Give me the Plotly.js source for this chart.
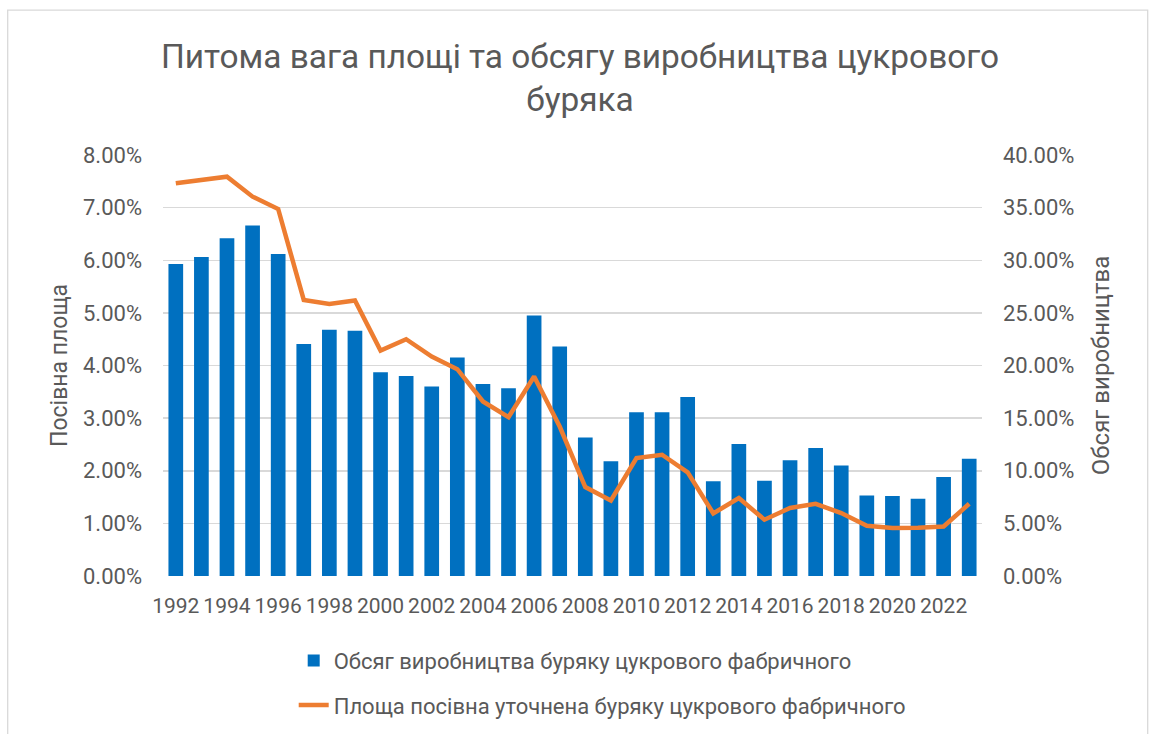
<!DOCTYPE html>
<html>
<head>
<meta charset="utf-8">
<script src="https://cdn.plot.ly/plotly-3.0.1.min.js"></script>
<style>html,body{margin:0;padding:0;background:#fff;}#chart{width:1154px;height:734px;}</style>
</head>
<body>
<div id="chart"></div>
<script>
// ---- data ----
const years = [1992,1993,1994,1995,1996,1997,1998,1999,2000,2001,2002,2003,2004,2005,2006,2007,
               2008,2009,2010,2011,2012,2013,2014,2015,2016,2017,2018,2019,2020,2021,2022,2023];
// production volume share, % (bars)
const productionShare = [5.93,6.06,6.42,6.66,6.12,4.41,4.68,4.66,3.87,3.80,3.60,4.15,3.65,3.57,4.95,4.36,
                         2.63,2.18,3.11,3.11,3.40,1.80,2.51,1.81,2.20,2.43,2.10,1.53,1.52,1.47,1.88,2.23];
// sown area share, % (line)
const areaShare = [37.31,37.63,37.94,36.04,34.87,26.23,25.85,26.17,21.42,22.50,20.85,19.65,16.58,15.10,18.95,14.20,
                   8.45,7.18,11.20,11.52,9.84,5.95,7.40,5.35,6.46,6.86,5.98,4.78,4.56,4.59,4.71,6.86];
const xTickVals = [1992,1994,1996,1998,2000,2002,2004,2006,2008,2010,2012,2014,2016,2018,2020,2022];
const xTickText = ['1992','1994','1996','1998','2000','2002','2004','2006','2008','2010','2012','2014','2016','2018','2020','2022'];
const barName = 'Обсяг виробництва буряку цукрового фабричного';
const lineName = 'Площа посівна уточнена буряку цукрового фабричного';
const chartTitle = 'Питома вага площі та обсягу виробництва цукрового<br>буряка';
const leftTitle = 'Посівна площа';
const rightTitle = 'Обсяг виробництва';

// ---- chart ----
const FONT = 'Roboto, "Noto Sans", sans-serif';
const TXT = '#595959';
const GRID = '#D9D9D9';

const traces = [
  {
    type: 'bar', x: years, y: productionShare, name: barName, legendgroup: 'g1',
    marker: {color: '#0070C0'}, yaxis: 'y', hoverinfo: 'skip'
  },
  {
    type: 'scatter', mode: 'lines', x: years, y: areaShare, name: lineName, legendgroup: 'g2',
    line: {color: '#ED7D31', width: 4.5}, yaxis: 'y2', hoverinfo: 'skip'
  }
];

const layout = {
  width: 1154, height: 734,
  margin: {l: 163, r: 172, t: 155, b: 158, autoexpand: false},
  paper_bgcolor: '#ffffff', plot_bgcolor: '#ffffff',
  font: {family: FONT, color: TXT, size: 22},
  showlegend: true,
  bargap: 0.426,
  title: {
    text: chartTitle,
    font: {family: FONT, size: 33.4, color: TXT},
    xref: 'container', x: 0.5026, xanchor: 'center',
    yref: 'container', y: 1 - 68/734, yanchor: 'top'
  },
  xaxis: {
    range: [1991.5, 2023.5], tickmode: 'array', tickvals: xTickVals, ticktext: xTickText,
    showgrid: false, zeroline: false, showline: false, ticks: '',
    tickangle: 0, ticklabelstandoff: 15,
    tickfont: {family: FONT, size: 21, color: TXT}
  },
  yaxis: {
    range: [0, 8], dtick: 1, tickformat: '.2f', ticksuffix: '%',
    showgrid: true, gridcolor: GRID, gridwidth: 1.5, zeroline: false, showline: false, ticks: '',
    ticklabelstandoff: 20,
    tickfont: {family: FONT, size: 22, color: TXT},
    title: {text: leftTitle, font: {family: FONT, size: 23, color: TXT}, standoff: 8}
  },
  yaxis2: {
    range: [0, 40], dtick: 5, tickformat: '.2f', ticksuffix: '%',
    overlaying: 'y', side: 'right',
    showgrid: false, zeroline: false, showline: false, ticks: '',
    ticklabelstandoff: 20,
    tickfont: {family: FONT, size: 22, color: TXT},
    title: {text: rightTitle, font: {family: FONT, size: 24, color: TXT}, standoff: 18}
  },
  legend: {
    orientation: 'v', x: (294 - 163.3) / 819, xanchor: 'left',
    y: -(640 - 576.3) / 421.3, yanchor: 'top',
    font: {family: FONT, size: 22, color: TXT},
    bgcolor: 'rgba(0,0,0,0)', tracegroupgap: 13, itemwidth: 30
  },
  shapes: [{
    type: 'rect', xref: 'paper', yref: 'paper',
    x0: (8 - 163.3) / 819, x1: (1148 - 163.3) / 819,
    y0: -(745 - 576.3) / 421.3, y1: 1 + (155 - 10) / 421.3,
    line: {color: GRID, width: 1.3}, fillcolor: 'rgba(0,0,0,0)', layer: 'below'
  }]
};

Plotly.newPlot('chart', traces, layout, {displayModeBar: false, staticPlot: true});
</script>
</body>
</html>
